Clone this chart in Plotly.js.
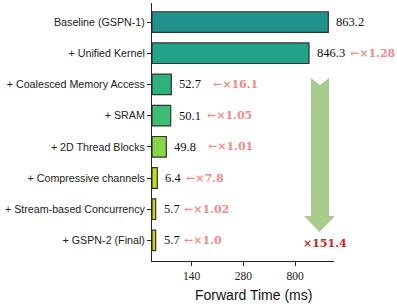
<!DOCTYPE html>
<html><head><meta charset="utf-8">
<script src="https://cdn.plot.ly/plotly-3.0.1.min.js"></script>
<style>html,body{margin:0;padding:0;background:#fff;}#c{width:397px;height:304px;}</style>
</head><body><div id="c"></div>
<script>
// Categories (top to bottom)
const categories = ["Baseline (GSPN-1)", "+ Unified Kernel", "+ Coalesced Memory Access", "+ SRAM",
  "+ 2D Thread Blocks", "+ Compressive channels", "+ Stream-based Concurrency", "+ GSPN-2 (Final)"];
// Forward time values (ms), shown as labels
const forwardTime = ["863.2", "846.3", "52.7", "50.1", "49.8", "6.4", "5.7", "5.7"];
// Bar lengths as drawn on the (non-linear, stylised) axis of the reference
const barLength = [176.3, 157, 19.3, 18.7, 14.3, 5.3, 3.7, 3.7];
// Step speed-ups
const speedup = ["", "←×1.28", "←×16.1", "←×1.05", "←×1.01", "←×7.8", "←×1.02", "←×1.0"];
const speedupPos = [0, 195.7, 59, 53, 53.7, 32.3, 30.3, 30.3];
const totalSpeedup = "×151.4";
// Axis ticks
const tickPos = [39.7, 91.3, 143];
const tickLabels = ["140", "280", "800"];
const colors = ["#21918c", "#20a386", "#2db27d", "#3fbc73", "#86d549", "#bddf26", "#d0d21c", "#d2cf1c"];

const L = 152, T = 3, W = 182, H = 258;
const yp = y => 1 - (y - T) / H;
const xu = x => x - L;

const annotations = [];
categories.forEach((c, i) => {
  annotations.push({x: barLength[i], y: c, xref: 'x', yref: 'y', text: forwardTime[i], showarrow: false,
    xanchor: 'left', yanchor: 'middle', xshift: 6, font: {family: 'Liberation Serif', size: 12.5, color: '#111'}});
  if (speedup[i]) annotations.push({x: speedupPos[i] / W, y: c, xref: 'paper', yref: 'y', text: '<b>' + speedup[i] + '</b>', showarrow: false,
    xanchor: 'left', yanchor: 'middle', font: {family: 'DejaVu Serif', size: 11, color: '#f28a86'}});
});
annotations.push({x: xu(324.5) / W, y: yp(243), xref: 'paper', yref: 'paper', text: '<b>' + totalSpeedup + '</b>', showarrow: false,
  xanchor: 'center', yanchor: 'middle', font: {family: 'DejaVu Serif', size: 11, color: '#cc2222'}});
annotations.push({x: (253.5 - L) / W, y: yp(295), xref: 'paper', yref: 'paper', text: 'Forward Time (ms)', showarrow: false,
  xanchor: 'center', yanchor: 'middle', font: {family: 'Liberation Sans', size: 14, color: '#111'}});

const pts = [[311, 78], [320, 85], [329, 78], [329, 216], [335, 216], [319.5, 232], [304, 216], [311, 216]];
const path = 'M ' + pts.map(p => xu(p[0]) + ',' + yp(p[1])).join(' L ') + ' Z';

Plotly.newPlot('c', [{
  type: 'bar', orientation: 'h', y: categories, x: barLength, width: 0.66,
  marker: {color: colors, line: {color: '#333', width: 1.2}}, hoverinfo: 'none'
}], {
  width: 397, height: 304, margin: {l: L, r: 397 - L - W, t: T, b: 304 - T - H},
  paper_bgcolor: '#fff', plot_bgcolor: '#fff', showlegend: false,
  xaxis: {range: [0, W], tickvals: tickPos, ticktext: tickLabels, showgrid: false, zeroline: false,
    showline: true, linecolor: '#222', linewidth: 1, ticks: 'outside', ticklen: 4, tickcolor: '#222',
    tickfont: {family: 'Liberation Serif', size: 11.5, color: '#222'}},
  yaxis: {type: 'category', range: [7.66, -0.61], showgrid: false, zeroline: false,
    showline: true, linecolor: '#222', linewidth: 1, ticks: 'outside', ticklen: 4, tickcolor: '#222',
    tickfont: {family: 'Liberation Sans', size: 10.7, color: '#222'}},
  shapes: [{type: 'path', path: path, xref: 'x', yref: 'paper', fillcolor: '#a9cb8d', line: {width: 0}}],
  annotations: annotations
}, {staticPlot: true});
</script></body></html>
